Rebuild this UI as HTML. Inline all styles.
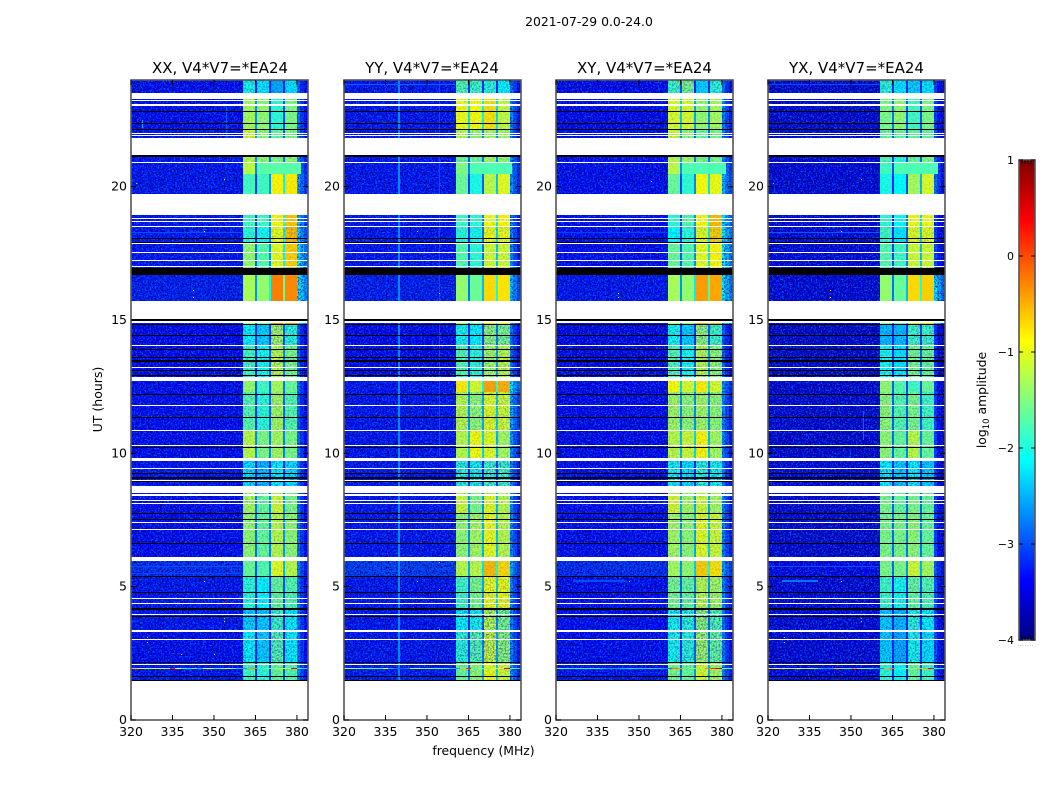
<!DOCTYPE html>
<html lang="en">
<head>
<meta charset="utf-8">
<title>2021-07-29 amplitude waterfall</title>
<style>
html,body{margin:0;padding:0;background:#fff;width:1050px;height:800px;overflow:hidden}
svg{display:block}
text{font-family:"DejaVu Sans","Liberation Sans",sans-serif;fill:#000}
.tick{font-size:12.5px}
.title{font-size:15px;text-anchor:middle}
</style>
</head>
<body>
<svg id="chart" xmlns="http://www.w3.org/2000/svg" width="1050" height="800" viewBox="0 0 1050 800">
  <defs>
    <filter id="speck-light" x="0" y="0" width="100%" height="100%" color-interpolation-filters="sRGB">
      <feTurbulence type="fractalNoise" baseFrequency="0.62" numOctaves="2" seed="4"/>
      <feColorMatrix type="matrix" values="0 0 0 0 0  0 0 0 0 .42  0 0 0 0 1  6 0 0 0 -2.9"/>
    </filter>
    <filter id="speck-dark" x="0" y="0" width="100%" height="100%" color-interpolation-filters="sRGB">
      <feTurbulence type="fractalNoise" baseFrequency="0.58" numOctaves="2" seed="11"/>
      <feColorMatrix type="matrix" values="0 0 0 0 0  0 0 0 0 0  0 0 0 0 .5  0 6 0 0 -2.9"/>
    </filter>
  </defs>
  <text x="589" y="26" font-size="12.4" text-anchor="middle">2021-07-29 0.0-24.0</text>
  <text class="title" x="220" y="73">XX, V4*V7=*EA24</text>
  <text class="title" x="432" y="73">YY, V4*V7=*EA24</text>
  <text class="title" x="644.5" y="73">XY, V4*V7=*EA24</text>
  <text class="title" x="856.5" y="73">YX, V4*V7=*EA24</text>
  <text font-size="12.5" text-anchor="middle" transform="translate(102 399.5) rotate(-90)">UT (hours)</text>
  <text font-size="12.4" text-anchor="middle" x="483.5" y="755">frequency (MHz)</text>
  <text font-size="12.4" text-anchor="middle" transform="translate(986 400) rotate(-90)">log<tspan font-size="8.5" dy="3">10</tspan><tspan dy="-3"> amplitude</tspan></text>
  <text x="1017" y="646" font-size="6" fill="#999" style="fill:#999;letter-spacing:.55px">.......</text>
  <g id="panels"></g>
  <g id="colorbar"></g>
</svg>
<script>
// Axis tick labels
const freqTicks = [320, 335, 350, 365, 380];
const hourTicks = [0, 5, 10, 15, 20];
const colorbarTicks = [1, 0, -1, -2, -3, -4];

// Frequency columns in MHz: background, four spectral windows with gaps, tail
const bandEdges = [320, 360.5, 365, 365.6, 369.9, 370.5, 375, 375.6, 380, 384];

// Time segment boundaries in hours (top to bottom)
const segmentEdges = [24, 23.29, 22.15, 21.83, 20.93, 20.48, 18.94, 18.53, 17.90, 16.69, 14.82, 14.06, 12.71, 12.30, 10.85, 9.71, 8.51, 7.73, 5.96, 5.36, 4.14, 3.31, 2.19, 1.46];

// log10 amplitude per segment: [background, window1, window2, window3, window4, tail]
const ampXX = [
  [-3.35,-2.0,-2.2,-2.5,-2.2,-3.3],
  [-3.35,-1.3,-1.4,-1.9,-1.5,-3.2],
  [-3.3,-1.1,-1.4,-1.6,-1.5,-3.1],
  [-3.3,-1.2,-1.4,-1.5,-1.4,-3.0],
  [-3.3,-1.2,-1.6,-1.6,-1.6,-3.0],
  [-3.3,-1.8,-1.8,-0.85,-0.8,-2.9],
  [-3.3,-1.8,-1.8,-0.85,-0.6,-2.8],
  [-3.3,-1.9,-2.0,-0.95,-0.55,-2.7],
  [-3.3,-1.4,-1.7,-1.0,-0.65,-2.5],
  [-3.25,-1.3,-1.4,-0.25,-0.3,-2.4],
  [-3.4,-2.1,-2.3,-1.3,-1.9,-3.3],
  [-3.4,-1.8,-2.0,-1.2,-1.5,-3.3],
  [-3.35,-1.4,-1.8,-1.3,-1.6,-3.2],
  [-3.35,-1.7,-1.9,-1.3,-1.7,-3.3],
  [-3.35,-1.2,-1.5,-1.3,-1.5,-3.2],
  [-3.3,-2.2,-2.4,-2.1,-2.2,-3.2],
  [-3.35,-1.3,-1.6,-1.1,-1.5,-3.2],
  [-3.35,-1.4,-1.6,-1.2,-1.4,-3.2],
  [-3.15,-1.6,-1.7,-1.0,-1.2,-3.1],
  [-3.3,-1.9,-2.1,-1.6,-1.7,-3.2],
  [-3.3,-2.3,-2.3,-1.8,-2.1,-3.2],
  [-3.35,-2.1,-2.3,-1.7,-2.1,-3.2],
  [-3.3,-1.8,-1.9,-1.6,-1.7,-3.1]
];
const ampYY = [
  [-3.3,-1.7,-1.8,-1.9,-2.1,-3.2],
  [-3.3,-0.95,-0.9,-0.75,-1.15,-3.1],
  [-3.3,-1.2,-1.4,-1.3,-1.3,-3.1],
  [-3.3,-1.6,-1.6,-1.3,-1.4,-3.0],
  [-3.3,-1.5,-1.4,-1.7,-1.7,-3.0],
  [-3.3,-1.6,-2.0,-1.2,-1.0,-3.0],
  [-3.3,-1.8,-1.9,-0.95,-0.85,-3.1],
  [-3.3,-1.9,-2.0,-0.95,-0.95,-3.1],
  [-3.3,-1.7,-1.9,-1.1,-1.1,-3.1],
  [-3.25,-1.4,-1.6,-0.7,-0.75,-2.8],
  [-3.4,-2.0,-2.1,-1.4,-1.5,-3.2],
  [-3.4,-1.7,-1.9,-1.3,-1.2,-3.2],
  [-3.3,-0.8,-1.05,-0.45,-0.5,-2.6],
  [-3.3,-1.2,-1.4,-1.0,-1.1,-2.9],
  [-3.3,-1.2,-0.9,-1.0,-1.3,-3.0],
  [-3.3,-1.9,-2.0,-1.8,-1.8,-3.1],
  [-3.3,-1.1,-1.5,-1.0,-1.2,-3.1],
  [-3.3,-1.4,-1.3,-0.95,-1.2,-3.1],
  [-3.05,-1.2,-1.2,-0.55,-0.7,-2.9],
  [-3.3,-1.8,-1.5,-0.95,-0.95,-3.1],
  [-3.3,-2.1,-2.0,-1.2,-1.5,-3.1],
  [-3.3,-1.9,-1.7,-1.1,-1.4,-3.1],
  [-3.25,-1.6,-1.4,-0.95,-1.1,-3.0]
];
const ampXY = [
  [-3.4,-1.8,-1.5,-2.3,-1.9,-3.2],
  [-3.4,-1.05,-1.05,-1.4,-1.3,-3.1],
  [-3.35,-1.1,-1.4,-1.6,-1.5,-3.1],
  [-3.35,-1.2,-1.3,-1.5,-1.5,-3.0],
  [-3.35,-1.2,-1.5,-1.6,-1.6,-2.9],
  [-3.35,-1.6,-1.9,-0.9,-0.95,-2.8],
  [-3.35,-1.9,-1.7,-0.9,-0.55,-2.6],
  [-3.35,-2.1,-1.9,-1.0,-0.65,-2.5],
  [-3.35,-1.6,-1.7,-1.0,-0.85,-2.5],
  [-3.3,-1.3,-1.4,-0.4,-0.45,-2.5],
  [-3.45,-2.0,-2.3,-1.4,-1.8,-3.3],
  [-3.45,-1.7,-2.0,-1.2,-1.4,-3.3],
  [-3.4,-0.9,-1.05,-0.8,-1.05,-3.0],
  [-3.4,-1.3,-1.4,-1.3,-1.4,-3.1],
  [-3.4,-1.2,-1.1,-0.85,-1.3,-3.1],
  [-3.35,-2.0,-2.2,-1.9,-2.0,-3.2],
  [-3.35,-1.05,-1.3,-1.1,-1.3,-3.1],
  [-3.35,-1.3,-1.4,-1.0,-1.1,-3.1],
  [-3.15,-1.3,-1.4,-0.65,-0.75,-2.9],
  [-3.35,-1.5,-1.6,-1.2,-1.3,-3.1],
  [-3.35,-2.0,-1.9,-1.4,-1.7,-3.2],
  [-3.35,-2.0,-1.9,-1.3,-1.6,-3.2],
  [-3.3,-1.5,-1.6,-1.05,-1.3,-3.1]
];
const ampYX = [
  [-3.6,-1.9,-2.2,-2.3,-2.2,-3.5],
  [-3.6,-1.5,-1.4,-1.8,-1.5,-3.5],
  [-3.55,-1.6,-1.6,-1.6,-1.6,-3.4],
  [-3.55,-1.7,-1.9,-1.6,-1.5,-3.3],
  [-3.55,-1.8,-1.55,-1.75,-1.8,-3.2],
  [-3.55,-2.0,-2.1,-1.3,-1.05,-3.2],
  [-3.55,-1.9,-2.1,-0.95,-0.95,-3.5],
  [-3.55,-1.8,-2.2,-1.0,-1.0,-3.5],
  [-3.55,-1.7,-1.8,-1.1,-1.1,-3.4],
  [-3.55,-1.4,-1.6,-0.7,-0.65,-2.6],
  [-3.65,-2.4,-2.4,-1.8,-1.8,-3.6],
  [-3.65,-2.0,-2.2,-1.5,-1.6,-3.6],
  [-3.6,-1.4,-1.7,-1.8,-1.6,-3.5],
  [-3.6,-1.4,-1.7,-1.5,-1.8,-3.5],
  [-3.6,-1.4,-1.6,-1.2,-1.6,-3.5],
  [-3.55,-2.1,-2.3,-2.1,-2.3,-3.5],
  [-3.6,-1.5,-1.6,-1.5,-1.6,-3.5],
  [-3.6,-1.5,-1.5,-1.4,-1.6,-3.5],
  [-3.45,-1.5,-1.5,-1.1,-1.3,-3.3],
  [-3.55,-1.8,-2.0,-1.6,-1.7,-3.4],
  [-3.55,-2.3,-2.4,-1.9,-2.1,-3.5],
  [-3.55,-2.3,-2.5,-2.0,-2.2,-3.4],
  [-3.5,-1.9,-2.1,-1.6,-1.8,-3.4]
];

// How speckled each time segment's windows look (0 smooth to 1 noisy)
const segmentNoise = [.3,.1,.15,.15,.05,.08,.1,.18,.1,.02,.3,.22,.1,.2,.14,.38,.16,.16,.12,.22,.36,.36,.16];

// Flagged rows in hours: [start, end]
const whiteFlags = [[23.29,23.52],[23.20,23.25],[23.04,23.11],[21.98,22.01],[21.91,21.94],[21.19,21.83],[20.90,20.93],[18.94,19.73],[18.78,18.81],[18.68,18.71],[18.49,18.53],[17.86,17.90],[17.52,17.55],[17.21,17.25],[16.99,17.03],[15.03,15.72],[14.88,14.96],[14.04,14.06],[13.20,13.24],[12.71,12.87],[11.79,11.81],[10.85,10.875],[10.29,10.31],[9.71,9.825],[9.42,9.45],[8.99,9.01],[8.51,8.775],[8.39,8.46],[8.20,8.24],[8.11,8.14],[7.39,7.425],[7.14,7.16],[5.96,6.12],[4.54,4.56],[4.36,4.39],[3.94,3.96],[3.31,3.375],[3.01,3.04],[2.07,2.10],[0,1.46]];
const blackFlags = [[22.80,22.83],[22.35,22.38],[22.125,22.15],[21.12,21.18],[18.05,18.08],[17.90,17.925],[16.69,16.94],[14.97,15.03],[14.82,14.86],[14.40,14.43],[13.875,13.90],[13.56,13.60],[13.425,13.50],[13.09,13.11],[12.90,12.95],[12.19,12.21],[11.325,11.35],[10.20,10.23],[9.24,9.26],[9.03,9.10],[8.94,8.97],[7.725,7.75],[7.51,7.54],[6.60,6.63],[5.36,5.39],[4.76,4.79],[4.14,4.20],[3.87,3.90],[2.16,2.19],[1.61,1.65],[1.46,1.50]];

// Interference row near 1.93 h: log10 amplitude in 2 MHz bins from 320 MHz
const rfiHour = 1.925;
const rfiXX = [-0.6,-0.8,-1.0,-1.4,-1.0,-1.2,-1.3,0.3,-0.9,-1.8,-2.2,-1.8,-2.4,-1.0,-1.1,-1.8,-1.5,-1.2,-1.8,-2.4,-2.6,-0.4,-0.2,-2.0,-1.4,-1.7,-1.5,-0.9,-1.2,0.4,-2.0,-2.2];
const rfiYY = [-1.2,-1.2,-1.4,-1.6,-1.7,-1.8,-1.9,-1.0,-2.5,-2.8,-2.9,-2.7,-1.4,-1.2,-1.6,-1.5,-1.7,-1.6,-1.8,-2.4,-2.6,-0.6,0.2,-1.8,-1.4,-1.5,-1.4,-1.0,-1.0,0.5,-1.7,-2.2];
const rfiXY = [-1.6,-1.7,-1.9,-2.0,-2.0,-2.0,-2.0,-2.0,-2.4,-2.6,-2.6,-2.5,-2.4,-2.2,-2.3,-2.3,-2.3,-2.3,-2.4,-2.6,-2.8,-0.2,-0.4,-1.8,-1.4,-1.4,-1.2,-0.3,0.2,0.7,-1.5,-1.9];
const rfiYX = [-0.7,-0.9,-1.1,-1.2,-1.3,-1.0,-1.3,-1.1,-1.5,-2.4,-2.6,-2.5,-0.5,-1.6,-1.8,-0.3,-1.6,-1.5,-1.7,-2.4,-2.7,-0.5,-0.2,-2.0,-1.5,-1.6,-1.4,-0.6,-0.4,0.4,-1.9,-2.2];

// Rectangular features: [fStart, fEnd, hStart, hEnd, log10 amplitude]
const patchesXX = [[365.6,381.3,20.48,20.93,-1.7],[354.2,354.6,21.8,23.0,-2.9],[323.8,324.2,22.2,22.5,-2.6],[320,360,18.27,18.31,-3.0],[320,360,5.72,5.76,-3.0],[320,360,5.46,5.5,-3.05]];
const patchesYY = [[365.6,380.9,20.48,20.93,-1.75],[339.7,340.1,1.5,24,-2.7],[354.2,354.6,9.9,24,-3.0],[320,360,23.8,23.84,-2.9]];
const patchesXY = [[365.6,381.3,20.48,20.93,-1.75],[320,360,18.27,18.31,-3.05],[326,345,5.18,5.26,-3.0]];
const patchesYX = [[365.6,381.5,20.48,20.93,-1.75],[354.2,354.6,10.5,11.6,-2.9],[320,360,18.27,18.31,-2.95],[325,338,5.18,5.26,-2.8],[320,360,5.72,5.76,-3.0],[320,360,23.8,23.84,-3.0]];

// Single hot channels: [freq, hour, log10 amplitude]
const specksXX = [[342.4,16.1,-0.6],[342.4,15.85,-0.8],[353.6,20.25,-1.7],[321.8,20.1,-1.7],[346.4,18.3,-1.3],[346.4,5.2,-1.1],[353.6,4.5,0.5],[353.6,4.4,0.5],[353.6,3.8,-2],[353.6,3.67,-0.9],[325.8,3.1,-1.9],[325.8,2.88,-2],[338,2.45,-2],[350,2.45,-1.7]];
const specksYY = [[346.3,18.3,-1.5],[354.4,16.0,-1.6],[354.4,5.9,-1.8],[346.4,5.2,-1.6],[354.4,3.4,-2],[354.4,4.9,-1.8]];
const specksXY = [[342.4,16.0,-1.0],[342.4,15.85,-1.3],[354.4,20.2,-2.0],[346.4,18.3,-1.8],[346.4,5.2,-1.4]];
const specksYX = [[342.4,16.1,-0.6],[342.4,15.85,-0.8],[353.6,20.25,-1.7],[321.8,20.1,-1.7],[346.4,18.3,-1.1],[346.4,5.2,-1.1],[353.6,4.5,0.5],[353.6,4.4,0.5],[353.6,3.8,-2],[353.6,3.67,-0.9],[325.8,3.1,-1.9],[325.8,2.88,-2]];

const panelKeys = ['xx', 'yy', 'xy', 'yx'];
const panelAmps = [ampXX, ampYY, ampXY, ampYX];
const panelRfi = [rfiXX, rfiYY, rfiXY, rfiYX];
const panelPatches = [patchesXX, patchesYY, patchesXY, patchesYX];
const panelSpecks = [specksXX, specksYY, specksXY, specksYX];

const SVGNS = 'http://www.w3.org/2000/svg';
const panelLeft = [131, 344, 556, 768];
const panelWidth = 177;
const plotTop = 80, plotBottom = 720;
const cbLeft = 1019, cbWidth = 16, cbTop = 160, cbBottom = 640;

function xScale(p, f) { return panelLeft[p] + (f - 320) * panelWidth / 64; }
function yScale(h) { return plotBottom - h * (plotBottom - plotTop) / 24; }
function cbScale(v) { return cbBottom - (v + 4) * (cbBottom - cbTop) / 5; }
function clip01(x) { return Math.max(0, Math.min(1, x)); }
function jet(v) {
  const t = clip01((v + 4) / 5);
  const r = clip01(1.5 - Math.abs(4 * t - 3));
  const g = clip01(1.5 - Math.abs(4 * t - 2));
  const b = clip01(1.5 - Math.abs(4 * t - 1));
  return 'rgb(' + Math.round(r * 255) + ',' + Math.round(g * 255) + ',' + Math.round(b * 255) + ')';
}
function make(tag, parent, props) {
  const el = document.createElementNS(SVGNS, tag);
  for (const k in props) el.setAttribute(k, props[k]);
  parent.appendChild(el);
  return el;
}
function box(parent, f0, f1, h0, h1, p, fill, minPx) {
  const x0 = Math.round(xScale(p, f0)), x1 = Math.round(xScale(p, f1));
  const y0 = Math.round(yScale(h1)), y1 = Math.round(yScale(h0));
  return make('rect', parent, { x: x0, y: y0, width: Math.max(minPx, x1 - x0), height: Math.max(minPx, y1 - y0), fill: fill, 'shape-rendering': 'crispEdges' });
}

const panelsRoot = document.getElementById('panels');
panelKeys.forEach(function (key, p) {
  const g = make('g', panelsRoot, {});
  
  

  // segment × column heat cells
  const amps = panelAmps[p];
  amps.forEach(function (row, s) {
    const hi = segmentEdges[s], lo = segmentEdges[s + 1];
    const bgCell = box(g, bandEdges[0], bandEdges[1], lo, hi, p, jet(row[0]), 1);
    
    
    for (let w = 0; w < 4; w++) {
      const cell = box(g, bandEdges[1 + 2 * w], bandEdges[2 + 2 * w], lo, hi, p, jet(row[1 + w]), 1);
      
      
      if (w < 3) {
        const gapValue = Math.max(-3.2, (row[1 + w] + row[2 + w]) / 2 - 1.3);
        const gapCell = box(g, bandEdges[2 + 2 * w], bandEdges[3 + 2 * w], lo, hi, p, jet(gapValue), 1);
        
        
      }
    }
    // tail falls off away from the last window
    [[380, 381, 0.45], [381, 382.5, 0.1], [382.5, 384, -0.2]].forEach(function (t) {
      const tail = box(g, t[0], t[1], lo, hi, p, jet(row[5] + t[2]), 1);
      
      
    });
  });

  // noise texture (cosmetic) over background + windows
  const tex = make('g', g, {});
  
  
  ['speck-light', 'speck-dark'].forEach(function (fid) {
    const xa = Math.round(xScale(p, 320)), xb = Math.round(xScale(p, 360.5));
    const xc = Math.round(xScale(p, 380)), xd = Math.round(xScale(p, 384));
    make('rect', tex, { x: xa, y: plotTop, width: xb - xa, height: plotBottom - plotTop, fill: '#000', filter: 'url(#' + fid + ')', opacity: .8 });
    make('rect', tex, { x: xc, y: plotTop, width: xd - xc, height: plotBottom - plotTop, fill: '#000', filter: 'url(#' + fid + ')', opacity: .6 });
    segmentNoise.forEach(function (n, s) {
      const y0 = Math.round(yScale(segmentEdges[s])), y1 = Math.round(yScale(segmentEdges[s + 1]));
      make('rect', tex, { x: xb, y: y0, width: xc - xb, height: y1 - y0, fill: '#000', filter: 'url(#' + fid + ')', opacity: n });
    });
  });

  // features
  panelPatches[p].forEach(function (d) {
    const el = box(g, d[0], d[1], d[2], d[3], p, jet(d[4]), 1);
    
    
  });
  panelSpecks[p].forEach(function (d) {
    const el = box(g, d[0], d[0] + 0.4, d[1], d[1] + 0.03, p, jet(d[2]), 1);
    
    
  });
  panelRfi[p].forEach(function (v, i) {
    const f = 320 + 2 * i;
    const el = box(g, f, f + 2, rfiHour, rfiHour + 0.03, p, jet(v), 1);
    
    
  });

  // flags
  whiteFlags.forEach(function (d) {
    const el = box(g, 320, 384, d[0], d[1], p, '#fff', 1);
    
    
  });
  blackFlags.forEach(function (d) {
    const el = box(g, 320, 384, d[0], d[1], p, '#000', 1);
    
    
  });

  // frame
  const frame = make('rect', g, { x: panelLeft[p], y: plotTop, width: panelWidth, height: plotBottom - plotTop, fill: 'none', stroke: '#555', 'stroke-width': 1.6 });
  
  

  // ticks and labels
  freqTicks.forEach(function (f) {
    const x = xScale(p, f);
    const t1 = make('line', g, { x1: x, x2: x, y1: plotBottom, y2: plotBottom - 5, stroke: '#000', 'stroke-width': 1 });
    
    
    const t2 = make('line', g, { x1: x, x2: x, y1: plotTop, y2: plotTop + 5, stroke: '#000', 'stroke-width': 1 });
    
    
    const lab = make('text', g, { x: x, y: 736, 'text-anchor': 'middle', class: 'tick' });
    
    
    lab.textContent = f;
  });
  hourTicks.forEach(function (h) {
    const y = yScale(h);
    const t1 = make('line', g, { x1: panelLeft[p], x2: panelLeft[p] + 5, y1: y, y2: y, stroke: '#000', 'stroke-width': 1 });
    
    
    const t2 = make('line', g, { x1: panelLeft[p] + panelWidth, x2: panelLeft[p] + panelWidth - 5, y1: y, y2: y, stroke: '#000', 'stroke-width': 1 });
    
    
    const lab = make('text', g, { x: panelLeft[p] - 4, y: y + 4, 'text-anchor': 'end', class: 'tick' });
    
    
    lab.textContent = h;
  });
});

// colorbar
const cbRoot = document.getElementById('colorbar');
for (let v = -4; v < 1; v += 0.02) {
  const y1 = cbScale(v), y0 = cbScale(v + 0.02);
  const seg = make('rect', cbRoot, { x: cbLeft, y: y0, width: cbWidth, height: y1 - y0 + 0.6, fill: jet(v + 0.01) });
  
  
}
const cbFrame = make('rect', cbRoot, { x: cbLeft, y: cbTop, width: cbWidth, height: cbBottom - cbTop, fill: 'none', stroke: '#555', 'stroke-width': 1.6 });


colorbarTicks.forEach(function (v) {
  const y = cbScale(v);
  const a = make('line', cbRoot, { x1: cbLeft, x2: cbLeft + 4, y1: y, y2: y, stroke: '#000', 'stroke-width': 1 });
  
  
  const b = make('line', cbRoot, { x1: cbLeft + cbWidth, x2: cbLeft + cbWidth - 4, y1: y, y2: y, stroke: '#000', 'stroke-width': 1 });
  
  
  const lab = make('text', cbRoot, { x: cbLeft - 5, y: y + 4, 'text-anchor': 'end', 'font-size': 11 });
  
  
  lab.textContent = v < 0 ? '\u2212' + Math.abs(v) : String(v);
});
[3, 6, 9, 12].forEach(function (dx) {
  const t = make('line', cbRoot, { x1: cbLeft + dx, x2: cbLeft + dx, y1: cbTop, y2: cbTop + 4, stroke: '#000', 'stroke-width': .8 });
  
  
  const u = make('line', cbRoot, { x1: cbLeft + dx, x2: cbLeft + dx, y1: cbBottom, y2: cbBottom - 4, stroke: '#000', 'stroke-width': .8 });
  
  
});
</script>
</body>
</html>
